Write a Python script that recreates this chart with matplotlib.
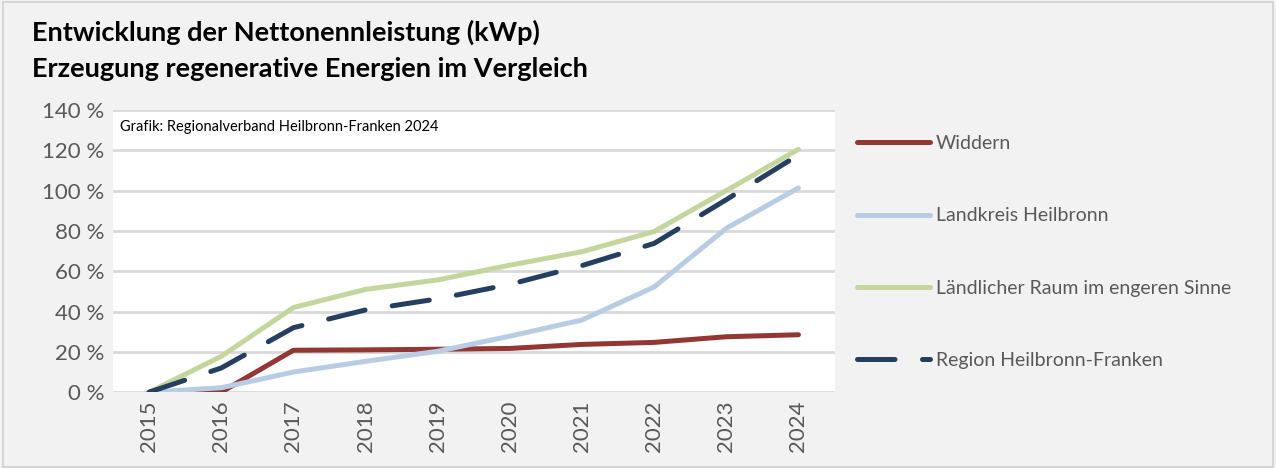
import matplotlib.pyplot as plt
from matplotlib.patches import Rectangle

years = ["2015", "2016", "2017", "2018", "2019", "2020", "2021", "2022", "2023", "2024"]
widdern = [0, 0, 20.8, 21.0, 21.3, 21.7, 23.7, 24.7, 27.5, 28.5]
landkreis = [0, 2.2, 10.0, 15.3, 20.3, 27.8, 35.8, 52.2, 81.3, 101.3]
laendlich = [0, 17.8, 42.0, 51.0, 55.7, 63.0, 69.7, 79.7, 100.0, 120.5]
region = [0, 12.0, 32.0, 40.8, 46.3, 53.5, 62.8, 73.8, 95.5, 117.7]

labels = ["Widdern", "Landkreis Heilbronn", "Ländlicher Raum im engeren Sinne", "Region Heilbronn-Franken"]
colors = ["#943634", "#b8cce4", "#c3d69b", "#243f60"]

plt.rcParams['font.family'] = ['Lato', 'DejaVu Sans']
gray = "#595959"

fig = plt.figure(figsize=(12.76, 4.68), dpi=100, facecolor="#f2f2f2")
fig.patches.append(Rectangle((0.002, 0.002), 0.996, 0.994, transform=fig.transFigure,
                             fill=False, edgecolor="#d0d0d0", lw=1.2))
ax = fig.add_axes([0.0886, 0.162, 0.5654, 0.603])
ax.set_facecolor("white")

x = list(range(len(years)))
ax.plot(x, widdern, color=colors[0], lw=3.6, solid_capstyle="round", label=labels[0], zorder=3)
ax.plot(x, landkreis, color=colors[1], lw=3.6, solid_capstyle="round", label=labels[1], zorder=3)
ax.plot(x, laendlich, color=colors[2], lw=3.6, solid_capstyle="round", label=labels[2], zorder=3)
ax.plot(x, region, color=colors[3], lw=3.6, dashes=(7.5, 5.5), dash_capstyle="round",
        label=labels[3], zorder=4)

ax.set_xlim(-0.5, len(years) - 0.5)
ax.set_ylim(0, 140)
ax.set_yticks(range(0, 141, 20))
ax.set_yticklabels([f"{v} %" for v in range(0, 141, 20)], fontsize=16, color=gray)
ax.set_xticks(x)
ax.set_xticklabels(years, rotation=90, fontsize=16, color=gray)
ax.tick_params(length=0, pad=6)
ax.grid(axis="y", color="#d9d9d9", lw=2)
ax.set_axisbelow(True)
for s in ax.spines.values():
    s.set_visible(False)

ax.text(0.01, 0.965, "Grafik: Regionalverband Heilbronn-Franken 2024", transform=ax.transAxes,
        fontsize=10.5, color="black", va="top")

fig.text(0.025, 0.93, "Entwicklung der Nettonennleistung (kWp)", fontsize=19.5, fontweight="bold",
         va="center")
fig.text(0.025, 0.853, "Erzeugung regenerative Energien im Vergleich", fontsize=19.5,
         fontweight="bold", va="center")

leg = fig.legend(loc="upper left", bbox_to_anchor=(0.658, 0.749), frameon=False, fontsize=14,
                 labelspacing=2.85, handlelength=3.75, handletextpad=0.3, labelcolor=gray)

fig.savefig("out.png", dpi=100, facecolor=fig.get_facecolor())
